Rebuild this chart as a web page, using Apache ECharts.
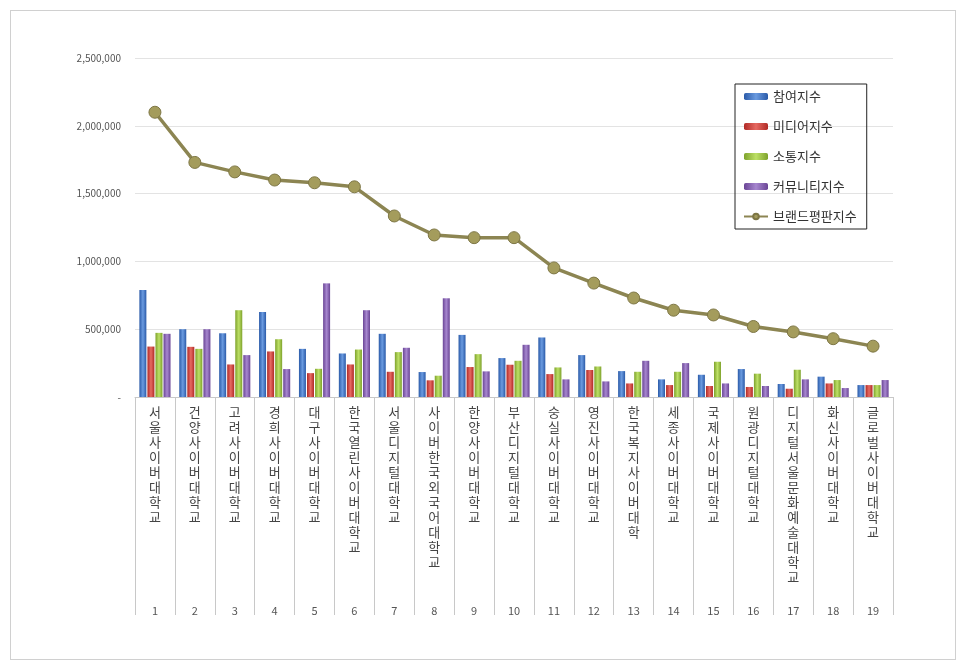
<!DOCTYPE html><html><head><meta charset="utf-8"><script src="https://cdn.jsdelivr.net/npm/echarts@6/dist/echarts.min.js"></script>
<style>html,body{margin:0;background:#fff}#c{width:966px;height:667px}#b{position:absolute;left:10px;top:10px;width:944px;height:648px;border:1px solid #d0d0d0}</style></head><body><div id="b"></div><div id="c" style="position:absolute;left:0;top:0"></div><script>
const categories=['서울사이버대학교','건양사이버대학교','고려사이버대학교','경희사이버대학교','대구사이버대학교','한국열린사이버대학교','서울디지털대학교','사이버한국외국어대학교','한양사이버대학교','부산디지털대학교','숭실사이버대학교','영진사이버대학교','한국복지사이버대학','세종사이버대학교','국제사이버대학교','원광디지털대학교','디지털서울문화예술대학교','화신사이버대학교','글로벌사이버대학교'];
const ranks=['1','2','3','4','5','6','7','8','9','10','11','12','13','14','15','16','17','18','19'];
const participation=[789000,500000,470000,627000,355000,321000,466000,184000,458000,287000,439000,309000,191000,130000,164000,206000,96000,150000,88000];
const media=[372000,370000,240000,336000,176000,240000,186000,123000,221000,238000,169000,199000,100000,88000,81000,74000,61000,100000,88000];
const communication=[473000,355000,640000,426000,208000,350000,331000,157000,316000,267000,218000,225000,186000,186000,260000,172000,201000,125000,88000];
const community=[466000,500000,309000,206000,838000,640000,363000,728000,189000,385000,130000,115000,267000,250000,100000,81000,130000,66000,125000];
const brand=[2100000,1730000,1660000,1600000,1580000,1550000,1335000,1195000,1175000,1175000,952000,840000,730000,640000,605000,520000,480000,430000,375000];
const names=['참여지수','미디어지수','소통지수','커뮤니티지수','브랜드평판지수'];
const grad=(a,b)=>new echarts.graphic.LinearGradient(0,0,1,0,[{offset:0,color:a},{offset:0.5,color:b},{offset:1,color:a}]);
const bar=(n,d,a,b)=>({name:n,type:'bar',data:d,barWidth:7,barGap:'15%',itemStyle:{color:grad(a,b)}});
const ch=echarts.init(document.getElementById('c'));
ch.setOption({animation:false,textStyle:{fontFamily:'"Noto Sans CJK KR", sans-serif'},
grid:{left:135,right:73,top:58,bottom:270},
legend:{orient:'vertical',left:735,top:84,itemGap:17,itemWidth:24,itemHeight:7,padding:[6,10,6,8],borderColor:'#222',borderWidth:1,textStyle:{fontSize:13,color:'#333'},data:names},
xAxis:[{type:'category',data:categories,axisLine:{lineStyle:{color:'#c8c8c8'}},axisTick:{show:true,alignWithLabel:false,interval:0,length:218,lineStyle:{color:'#c8c8c8',width:1}},
axisLabel:{interval:0,margin:8,fontSize:13,color:'#444',lineHeight:15,verticalAlign:'top',formatter:v=>v.split('').join('\n')}},
{type:'category',data:ranks,position:'bottom',offset:200,axisLine:{show:false},axisTick:{show:false},axisLabel:{interval:0,fontSize:11,color:'#555'}}],
yAxis:{type:'value',min:0,max:2500000,interval:500000,axisLine:{show:false},axisTick:{show:false},splitLine:{lineStyle:{color:'#e3e3e3'}},
axisLabel:{fontSize:10,color:'#555',margin:14,formatter:v=>v===0?'-':v.toLocaleString('en-US')}},
series:[bar(names[0],participation,'#2a5aa8','#6b9be0'),bar(names[1],media,'#b02a26','#e66a62'),bar(names[2],communication,'#7ea22c','#bde066'),bar(names[3],community,'#6a4595','#a787cf'),
{name:names[4],type:'line',data:brand,symbol:'circle',symbolSize:12,lineStyle:{color:'#8c8552',width:3.5},itemStyle:{color:'#a49c5c',borderColor:'#7d7645',borderWidth:1}}]});
</script></body></html>
